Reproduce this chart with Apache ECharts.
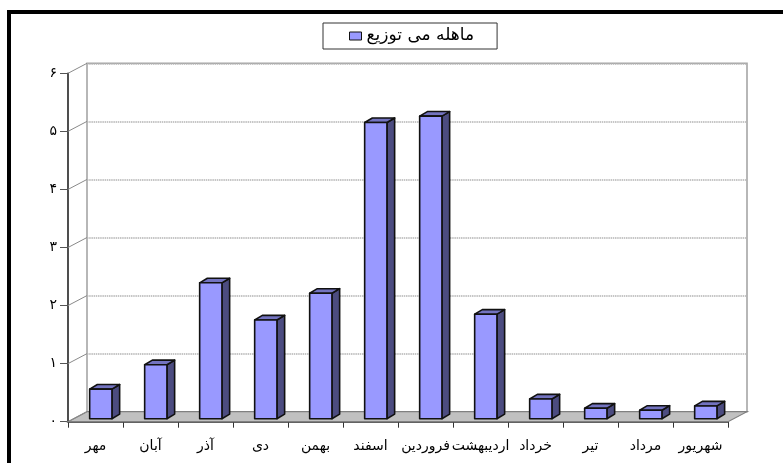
<!DOCTYPE html>
<html><head><meta charset="utf-8">
<style>html,body{margin:0;padding:0;background:#fff}#c{width:783px;height:463px}</style>
<script src="https://cdn.jsdelivr.net/npm/echarts@6/dist/echarts.min.js"></script>
</head><body><div id="c"></div>
<script>
const seriesName = 'ماهله می توزیع';
const categories = ['مهر','آبان','آذر','دی','بهمن','اسفند','فروردین','اردیبهشت','خرداد','تیر','مرداد','شهریور'];
const values = [0.51,0.93,2.34,1.70,2.16,5.10,5.21,1.80,0.34,0.18,0.145,0.22];
const yTicks = [0,1,2,3,4,5,6];
const yTickLabels = ['۰','۱','۲','۳','۴','۵','۶'];

const FONT = '"DejaVu Sans"';
const DX = 19, DY = 10;
const G = {left:68, right:55, top:73.3, bottom:41.3};
const chart = echarts.init(document.getElementById('c'), null, {renderer:'canvas'});

function barItem(params, api){
  const i = api.value(0), v = api.value(1);
  const w = api.size([1,0])[0];
  const bw = w*0.405;
  const offX = 5.3, offY = -3, dx = 7.7, dy = 4.6;
  const base = api.coord([i,0]), top = api.coord([i,v]);
  const x0 = base[0]+offX-bw/2, x1 = x0+bw, yb = base[1]+offY, yt = top[1]+offY;
  const st = {stroke:'#111', lineWidth:1.6, lineJoin:'round'};
  return {type:'group', children:[
    {type:'polygon', shape:{points:[[x1,yt],[x1+dx,yt-dy],[x1+dx,yb-dy],[x1,yb]]}, style:{fill:'#4c4c80',...st}},
    {type:'polygon', shape:{points:[[x0,yt],[x0+dx,yt-dy],[x1+dx,yt-dy],[x1,yt]]}, style:{fill:'#7373c0',...st}},
    {type:'rect', shape:{x:x0,y:yt,width:bw,height:yb-yt}, style:{fill:'#9999ff',...st}}
  ]};
}
function floorItem(params, api){
  const w = api.size([1,0])[0];
  const a = api.coord([0,0]), b = api.coord([categories.length-1,0]);
  const xl = a[0]-w/2, xr = b[0]+w/2, y = a[1];
  return {type:'polygon', shape:{points:[[xl,y],[xl+DX,y-DY],[xr+DX,y-DY],[xr,y]]},
    style:{fill:'#c0c0c0', stroke:'#808080', lineWidth:1.2}};
}
function diagItem(params, api){
  const w = api.size([1,0])[0];
  const c = api.coord([0,api.value(0)]);
  const x = c[0]-w/2;
  return {type:'line', shape:{x1:x,y1:c[1],x2:x+DX,y2:c[1]-DY}, style:{stroke:'#8a8a8a', lineWidth:1}};
}

chart.setOption({
  animation:false,
  backgroundColor:'#fff',
  textStyle:{fontFamily:FONT},
  graphic:[
    {type:'rect', z:100, shape:{x:7,y:10,width:776,height:4}, style:{fill:'#000'}},
    {type:'rect', z:100, shape:{x:7,y:10,width:4,height:453}, style:{fill:'#000'}}
  ],
  legend:{
    left:323, top:23, orient:'horizontal',
    padding:[4.5,23,4.5,26], borderColor:'#333', borderWidth:1, backgroundColor:'#fff',
    icon:'rect', itemWidth:12, itemHeight:8, itemGap:0,
    textStyle:{fontFamily:FONT, fontSize:17, color:'#000', padding:[0,0,0,0]},
    data:[{name:seriesName, itemStyle:{color:'#9999ff', borderColor:'#111', borderWidth:1}}]
  },
  grid:[
    {left:G.left+DX, right:G.right-DX, top:G.top-DY, bottom:G.bottom+DY, show:true, borderColor:'#a6a6a6', borderWidth:1.6, backgroundColor:'#fff', z:0},
    {left:G.left, right:G.right, top:G.top, bottom:G.bottom, z:2}
  ],
  xAxis:[
    {gridIndex:0, type:'category', data:categories, show:false},
    {gridIndex:1, type:'category', data:categories, boundaryGap:true,
     axisLine:{lineStyle:{color:'#222',width:1.6}},
     axisTick:{show:true, alignWithLabel:false, length:6, lineStyle:{color:'#333',width:1}},
     axisLabel:{interval:0, margin:18, fontFamily:FONT, fontSize:14, color:'#000', hideOverlap:false}}
  ],
  yAxis:[
    {gridIndex:0, type:'value', min:0, max:6, interval:1, axisLine:{show:false}, axisTick:{show:false}, axisLabel:{show:false},
     splitLine:{show:true, lineStyle:{color:'#b4b4b4', width:1.6, type:[1.5,0.7]}}},
    {gridIndex:1, type:'value', min:0, max:6, interval:1, splitLine:{show:false},
     axisLine:{show:true, lineStyle:{color:'#222',width:1.6}},
     axisTick:{show:true, length:8, lineStyle:{color:'#555',width:1}},
     axisLabel:{margin:11, fontFamily:FONT, fontSize:14, color:'#000', formatter:v=>yTickLabels[yTicks.indexOf(v)]}}
  ],
  series:[
    {type:'custom', name:'floor', xAxisIndex:1, yAxisIndex:1, z:1, silent:true, data:[0], encode:{x:0}, renderItem:floorItem, clip:false},
    {type:'custom', name:'diag', xAxisIndex:1, yAxisIndex:1, z:1, silent:true, data:yTicks.map(t=>[t]), encode:{y:0}, renderItem:diagItem, clip:false},
    {type:'custom', name:seriesName, xAxisIndex:1, yAxisIndex:1, z:5, data:values.map((v,i)=>[i,v]), encode:{x:0,y:1}, renderItem:barItem, clip:false, itemStyle:{color:'#9999ff'}}
  ]
});
</script></body></html>
